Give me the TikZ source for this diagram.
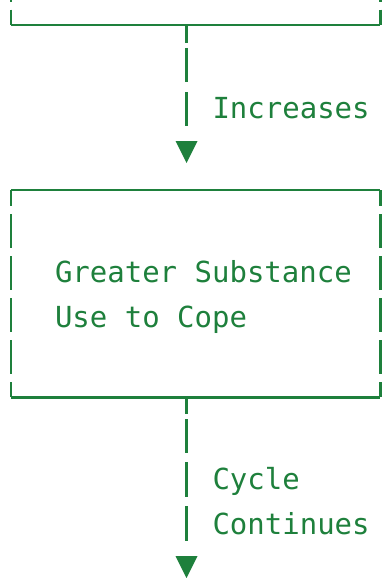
\documentclass[tikz,border=0pt]{standalone}
\usepackage{fontspec}
\setmonofont{DejaVu Sans Mono}
\usetikzlibrary{arrows.meta}
\definecolor{flowgreen}{RGB}{30,128,60}
\begin{document}
\begin{tikzpicture}[x=1pt,y=-1pt,
  every node/.style={font=\ttfamily\fontsize{29}{44.5}\selectfont,text=flowgreen,inner sep=0pt},
  frame/.style={minimum width=369pt,minimum height=207pt},
  edge/.style={draw=flowgreen,line width=2.2pt},
  side/.style={edge,dash pattern=on 34pt off 8pt,dash phase=18pt},
  link/.style={edge,-{Triangle[width=22pt,length=22pt,line width=0pt]}}]
\useasboundingbox (0,0) rectangle (381,578);
\node[frame,anchor=south west] (prev) at (11,25) {};
\node[frame,anchor=north west] (grs) at (11,190) {};
\coordinate (more) at (186.5,578);
\draw[edge] (prev.south west) -- (prev.south east);
\draw[side] (prev.north west) -- (prev.south west);
\draw[side] (prev.north east) -- (prev.south east);
\draw[edge] (grs.north west) -- (grs.north east);
\draw[edge] (grs.south west) -- (grs.south east);
\draw[side] (grs.north west) -- (grs.south west);
\draw[side] (grs.north east) -- (grs.south east);
\draw[link,shorten >=27pt,dash pattern=on 18pt off 5pt on 34pt off 10pt on 34pt off 15pt]
  ([xshift=175.5pt]prev.south west) -- ([xshift=175.5pt]grs.north west);
\draw[link,dash pattern=on 17pt off 5pt on 34pt off 9pt on 35pt off 9pt on 35pt off 15pt]
  ([xshift=175.5pt]grs.south west) -- (more);
\node[anchor=base west] (inc) at (212.3,118) {Increases};
\node[anchor=base west,align=left] (grstext) at (54.8,327) {Greater Substance\\Use to Cope};
\node[anchor=base west,align=left] (cyc) at (212.3,534) {Cycle\\Continues};
\end{tikzpicture}
\end{document}
